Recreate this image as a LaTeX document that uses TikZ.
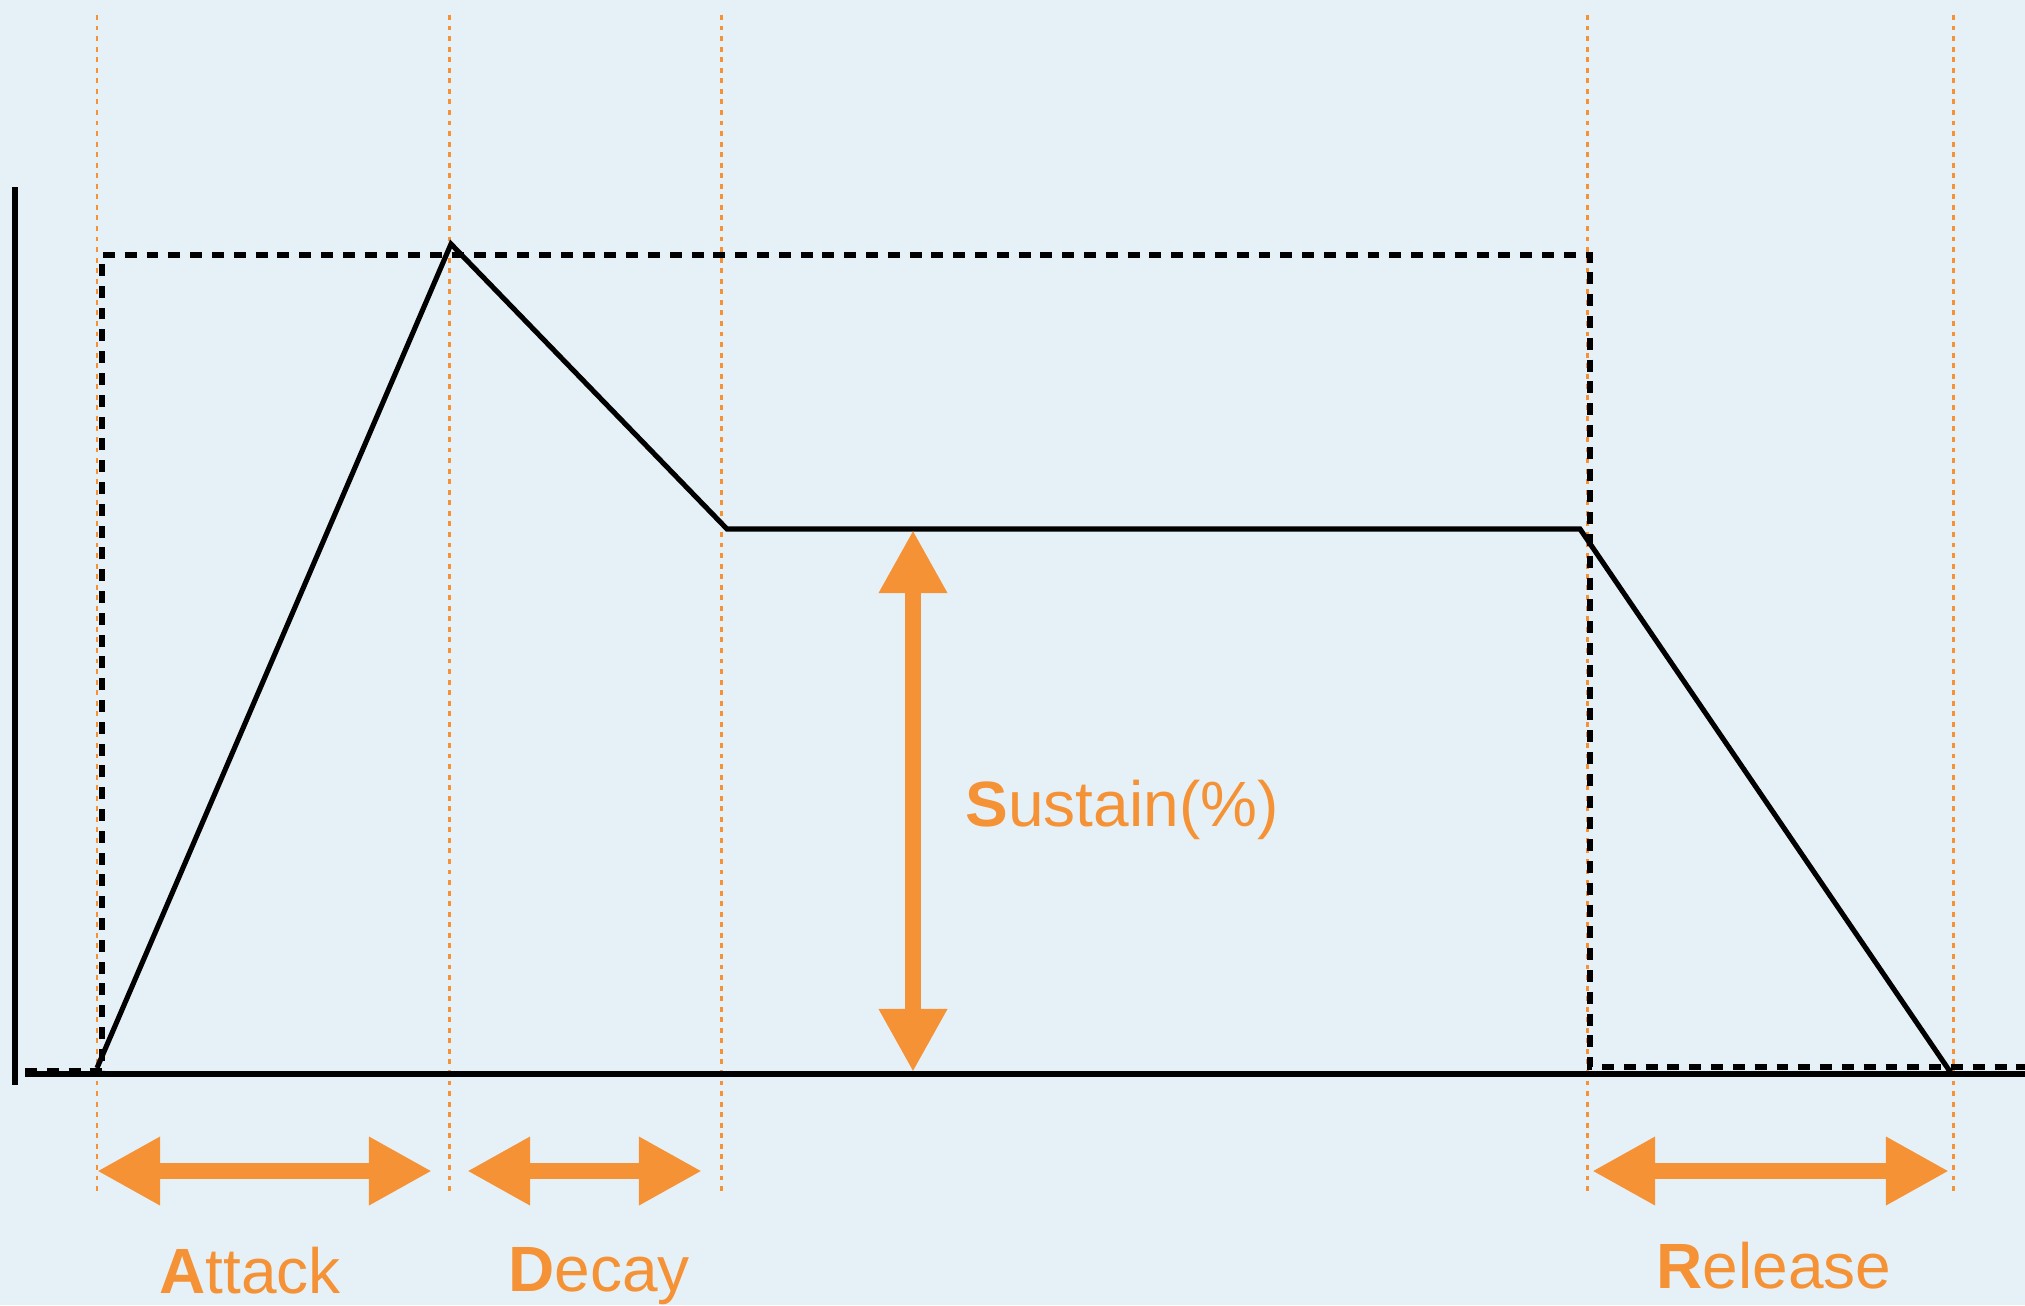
\documentclass[tikz,border=0pt]{standalone}
\usepackage{fontspec}
\setmainfont{Liberation Sans}
\usepackage{xcolor}
\usepackage{tikz}
\usetikzlibrary{arrows.meta}
\definecolor{adsrorange}{HTML}{F59236}
\definecolor{bgblue}{HTML}{E5F1F7}
\tikzset{
  env/.style={line width=1.45pt,line join=miter},
  gate/.style={line width=1.45pt,dash pattern=on 3.4pt off 2.8pt},
  guide/.style={adsrorange,line width=0.85pt,dash pattern=on 1.4pt off 1.6pt},
  span/.style={adsrorange,line width=4.8pt,
    {Triangle[length=6.3mm,width=6.4mm]}-{Triangle[length=6.3mm,width=6.4mm]}},
  lbl/.style={text=adsrorange,inner sep=0pt,anchor=base,
    font=\fontsize{18.2}{22}\selectfont},
}

\begin{document}
\begin{tikzpicture}[x=0.01cm,y=-0.01cm]
\useasboundingbox (0,0) rectangle (2025,1305);
\fill[bgblue] (0,0) rectangle (2025,1305);

% phase boundaries
\foreach \x in {97,449,721,1587,1953}
  \draw[guide] (\x,15) -- (\x,1193);

% axes
\coordinate (ytop) at (15,187);
\coordinate (ybot) at (15,1085);
\coordinate (x0) at (25,1074);
\coordinate (x1) at (2025,1074);
\draw[env] (ytop) -- (ybot);
\draw[env] (x0) -- (x1);

% gate
\coordinate (g0) at (25,1071);
\coordinate (g1) at (102,1071);
\coordinate (g2) at (102,255);
\coordinate (g3) at (1590,255);
\coordinate (g4) at (1590,1067);
\coordinate (g5) at (2025,1067);
\draw[gate] (g0) -- (g1) -- (g2) -- (g3) -- (g4) -- (g5);

% envelope
\coordinate (e0) at (97,1068);
\coordinate (peak) at (451,244);
\coordinate (sus0) at (727,529);
\coordinate (sus1) at (1580,529);
\coordinate (rel) at (1951,1073);
\draw[env] (e0) -- (peak) -- (sus0) -- (sus1) -- (rel);

% spans
\coordinate (aL) at (97,1171);
\coordinate (aR) at (432,1171);
\coordinate (dL) at (467,1171);
\coordinate (dR) at (702,1171);
\coordinate (rL) at (1592,1171);
\coordinate (rR) at (1949,1171);
\coordinate (sT) at (913,530);
\coordinate (sB) at (913,1072);
\draw[span] (aL) -- (aR);
\draw[span] (dL) -- (dR);
\draw[span] (rL) -- (rR);
\draw[span] (sT) -- (sB);

\node[lbl] (attack) at (250,1293) {\textbf{A}ttack};
\node[lbl] (decay) at (599,1291) {\textbf{D}ecay};
\node[lbl] (release) at (1774,1288) {\textbf{R}elease};
\node[lbl,anchor=base west] (sustain) at (965,826) {\textbf{S}ustain(\%)};
\end{tikzpicture}
\end{document}
